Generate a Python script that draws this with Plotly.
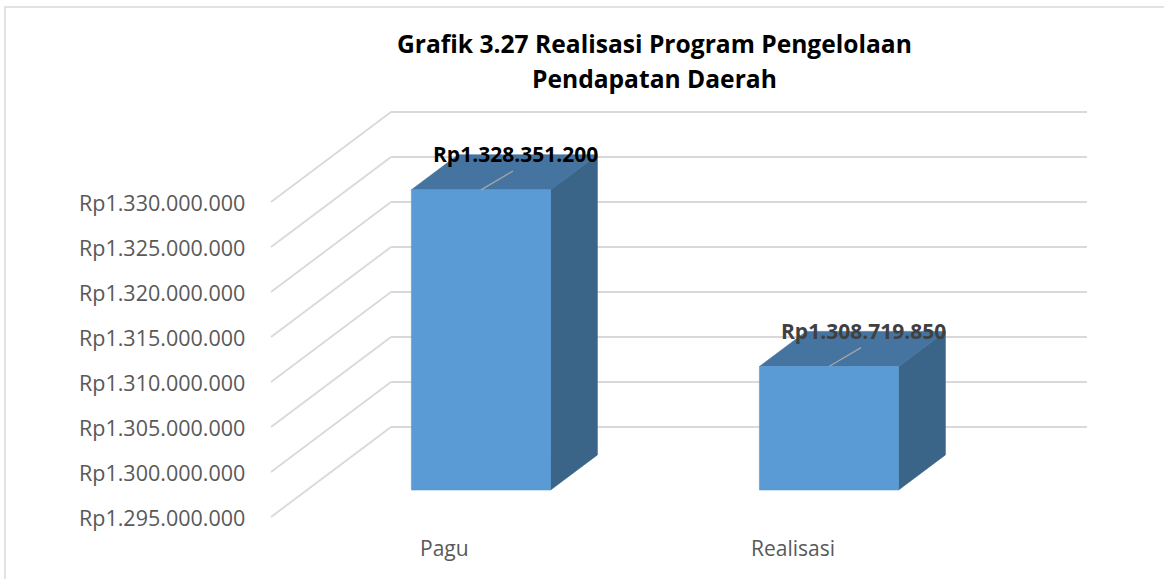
import plotly.graph_objects as go

# ---- data -------------------------------------------------------------
categories = ["Pagu", "Realisasi"]
values = [1328351200, 1308719850]
value_labels = ["Rp1.328.351.200", "Rp1.308.719.850"]
label_colors = ["#000000", "#404040"]

tick_values = [1295000000, 1300000000, 1305000000, 1310000000,
               1315000000, 1320000000, 1325000000, 1330000000]
tick_labels = ["Rp1.295.000.000", "Rp1.300.000.000", "Rp1.305.000.000",
               "Rp1.310.000.000", "Rp1.315.000.000", "Rp1.320.000.000",
               "Rp1.325.000.000", "Rp1.330.000.000"]

title_lines = ["Grafik 3.27 Realisasi Program Pengelolaan", "Pendapatan Daerah"]

# ---- oblique 3-D projection ------------------------------------------
FLOOR = tick_values[0]
DEPTH_X = 0.3448          # horizontal shift of full depth (category units)
DEPTH_Y = 10_000_000      # vertical shift of full depth (value units)
BAR_W = 0.4               # bar width (category units)
BAR_D0, BAR_D1 = 0.30, 0.69   # bar front / back depth
U_MIN, U_MAX = -0.5, 1.5      # category extent of the walls


def proj(u, v, d):
    return u + d * DEPTH_X, v + d * DEPTH_Y


GRID = "#d9d9d9"
FRONT = "#5b9bd5"
TOP = "#44749f"
SIDE = "#3a6488"
FONT = "Open Sans"

fig = go.Figure()

# back wall gridlines
gx, gy = [], []
for v in tick_values:
    for u in (U_MIN, U_MAX):
        x, y = proj(u, v, 1)
        gx.append(x); gy.append(y)
    gx.append(None); gy.append(None)
fig.add_trace(go.Scatter(x=gx, y=gy, mode="lines",
                         line=dict(color=GRID, width=1.8), hoverinfo="skip"))

# left side wall gridlines
sx, sy = [], []
for v in tick_values:
    for d in (0, 1):
        x, y = proj(U_MIN, v, d)
        sx.append(x); sy.append(y)
    sx.append(None); sy.append(None)
fig.add_trace(go.Scatter(x=sx, y=sy, mode="lines",
                         line=dict(color=GRID, width=1.8), hoverinfo="skip"))


def face(pts, col):
    fig.add_trace(go.Scatter(
        x=[p[0] for p in pts] + [pts[0][0]],
        y=[p[1] for p in pts] + [pts[0][1]],
        mode="lines", fill="toself", fillcolor=col,
        line=dict(color=col, width=0.6), hoverinfo="skip"))


# columns: side, top and front faces
for i, v in enumerate(values):
    ul, ur = i - BAR_W / 2, i + BAR_W / 2
    face([proj(ur, FLOOR, BAR_D0), proj(ur, FLOOR, BAR_D1),
          proj(ur, v, BAR_D1), proj(ur, v, BAR_D0)], SIDE)
    face([proj(ul, v, BAR_D0), proj(ur, v, BAR_D0),
          proj(ur, v, BAR_D1), proj(ul, v, BAR_D1)], TOP)
    face([proj(ul, FLOOR, BAR_D0), proj(ur, FLOOR, BAR_D0),
          proj(ur, v, BAR_D0), proj(ul, v, BAR_D0)], FRONT)

# data labels with leader lines
LEAD_X, LEAD_Y = 0.092, 2_100_000
for i, v in enumerate(values):
    x0, y0 = proj(i, v, BAR_D0)
    x1, y1 = x0 + LEAD_X, y0 + LEAD_Y
    fig.add_trace(go.Scatter(x=[x0, x1], y=[y0, y1], mode="lines",
                             line=dict(color="#a6a6a6", width=1.3),
                             hoverinfo="skip"))
    fig.add_annotation(x=x1, y=y1, text=value_labels[i], showarrow=False,
                       xanchor="center", yanchor="middle", xshift=2, yshift=17,
                       font=dict(family=FONT, size=21, weight="bold",
                                 color=label_colors[i]))

# value axis labels (front plane)
for v, t in zip(tick_values, tick_labels):
    x, y = proj(U_MIN, v, 0)
    fig.add_annotation(x=x, y=y, text=t, showarrow=False, xanchor="right",
                       yanchor="middle", xshift=-24,
                       font=dict(family=FONT, size=21.5, color="#595959"))

# category labels
for i, c in enumerate(categories):
    x, y = proj(i, FLOOR, 0)
    fig.add_annotation(x=x, y=y, text=c, showarrow=False, xanchor="center",
                       yanchor="middle", yshift=-31,
                       font=dict(family=FONT, size=21, color="#595959"))

# title
for k, line in enumerate(title_lines):
    fig.add_annotation(xref="paper", yref="paper", x=0.5627,
                       y=[1 - 43 / 579, 1 - 78 / 579][k], text=line,
                       showarrow=False, xanchor="center", yanchor="middle",
                       font=dict(family=FONT, size=24.6, weight="bold",
                                 color="#000000"))

# chart border
fig.add_shape(type="rect", xref="paper", yref="paper",
              x0=5 / 1164, y0=1 - 7 / 579, x1=1.02, y1=-0.02,
              line=dict(color="#d9d9d9", width=1.5), layer="below")

fig.update_layout(
    width=1164, height=579,
    margin=dict(l=0, r=0, t=0, b=0),
    paper_bgcolor="white", plot_bgcolor="white",
    showlegend=False,
    xaxis=dict(range=[-1.2787, 2.0661], visible=False, fixedrange=True),
    yaxis=dict(range=[1288111000, 1352444000], visible=False, fixedrange=True),
)

fig.write_html("out.html", config={"displayModeBar": False})
